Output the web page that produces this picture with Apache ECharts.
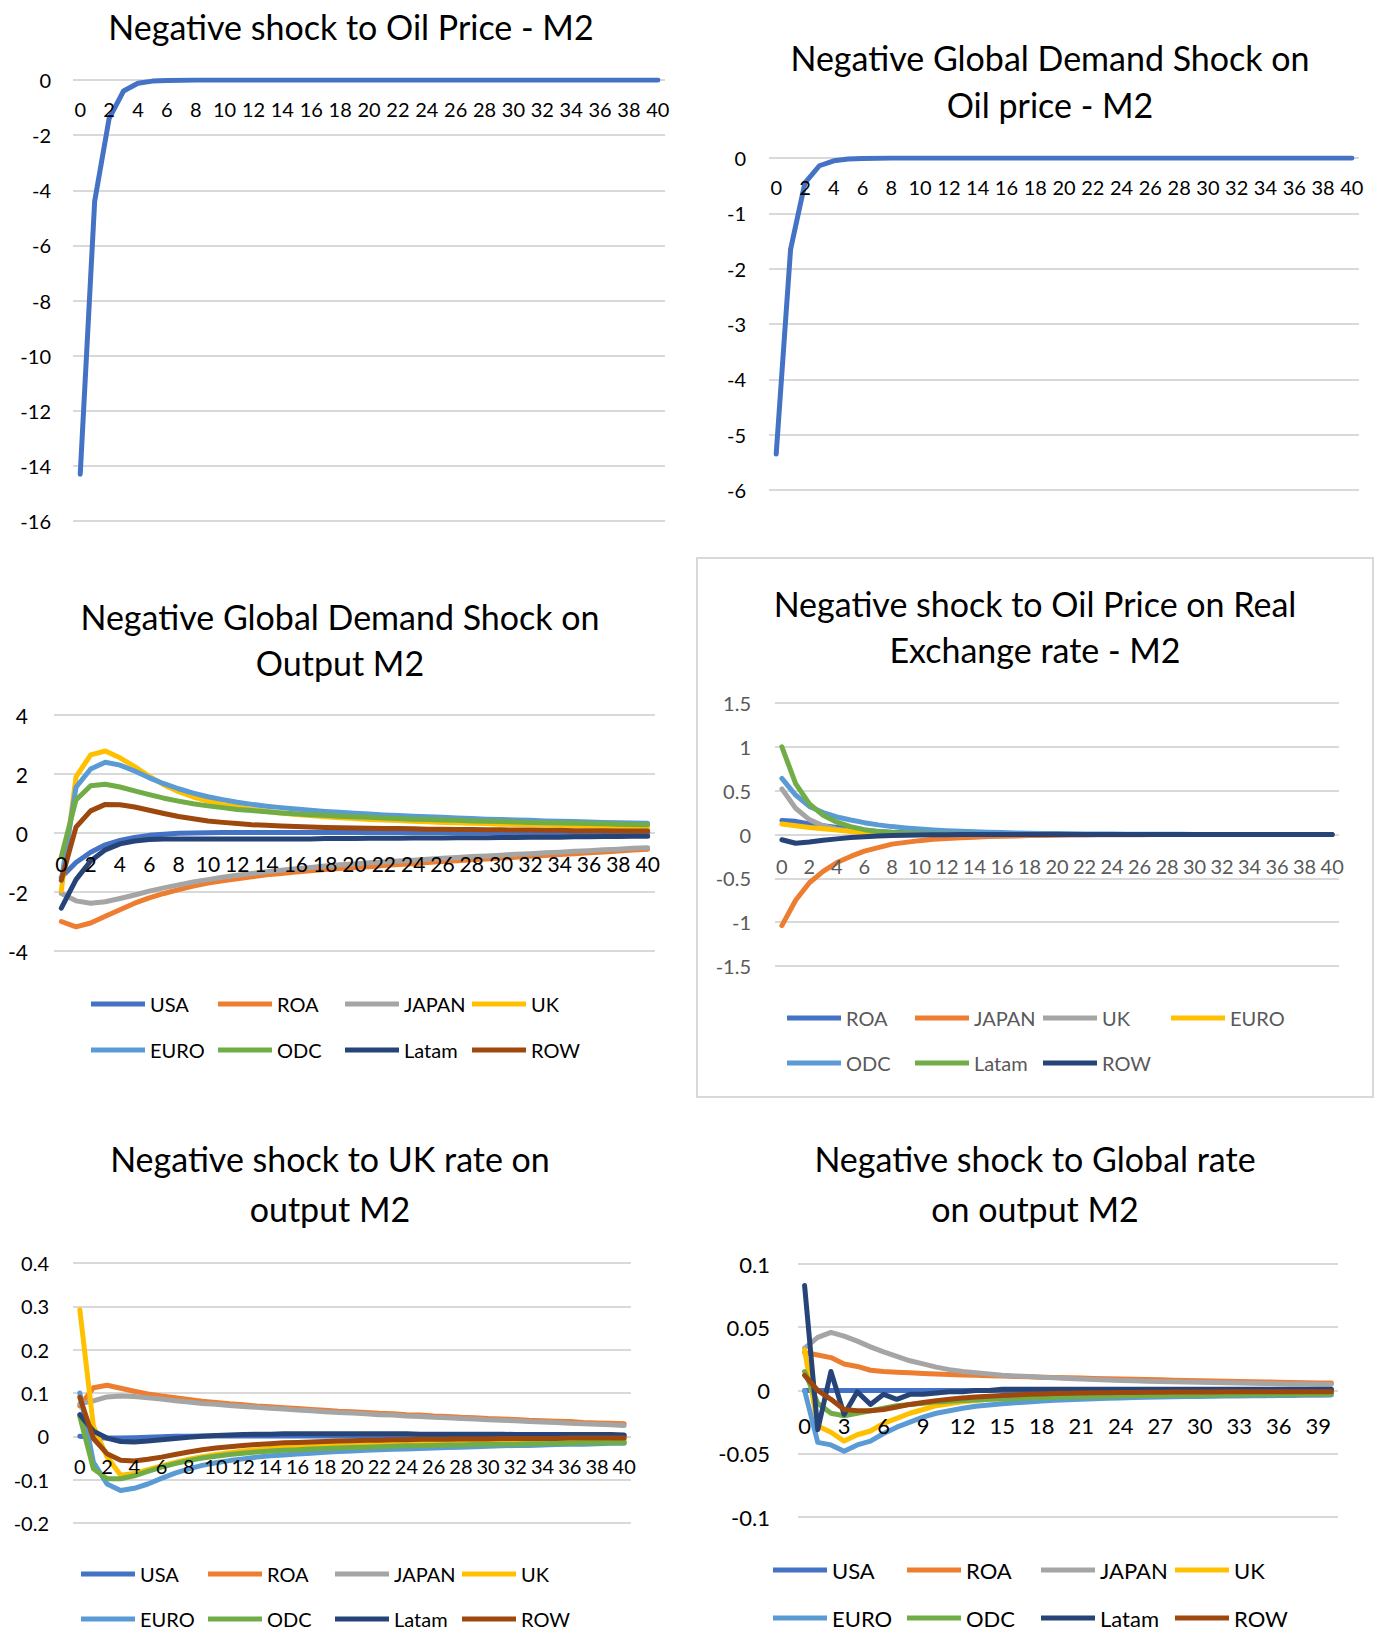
<!DOCTYPE html>
<html>
<head>
<meta charset="utf-8">
<script src="https://cdn.jsdelivr.net/npm/echarts/dist/echarts.min.js"></script>
<style>
  body { margin: 0; background: #fff; }
  #page { position: relative; width: 1386px; height: 1630px; overflow: hidden; }
  .chart { position: absolute; }
</style>
</head>
<body>
<div id="page">
  <div class="chart" id="c1" style="left:0;top:0;width:693px;height:540px"></div>
  <div class="chart" id="c2" style="left:693px;top:0;width:693px;height:540px"></div>
  <div class="chart" id="c3" style="left:0;top:540px;width:693px;height:560px"></div>
  <div class="chart" id="c4" style="left:693px;top:540px;width:693px;height:560px"></div>
  <div class="chart" id="c5" style="left:0;top:1100px;width:693px;height:530px"></div>
  <div class="chart" id="c6" style="left:693px;top:1100px;width:693px;height:530px"></div>
</div>
<script>
// horizon 0..40
const periods = ['0','1','2','3','4','5','6','7','8','9','10','11','12','13','14','15','16','17','18','19','20',
  '21','22','23','24','25','26','27','28','29','30','31','32','33','34','35','36','37','38','39','40'];

const countries8 = ['USA', 'ROA', 'JAPAN', 'UK', 'EURO', 'ODC', 'Latam', 'ROW'];
const countries7 = ['ROA', 'JAPAN', 'UK', 'EURO', 'ODC', 'Latam', 'ROW'];
const palette = ['#4472C4', '#ED7D31', '#A5A5A5', '#FFC000', '#5B9BD5', '#70AD47', '#264478', '#9E480E'];

// chart 1 - oil price shock on oil price
const oilOnOil = [-14.3,-4.4,-1.4,-0.4,-0.12,-0.04,-0.015,-0.005,-0.002,-0.001,
  0,0,0,0,0,0,0,0,0,0, 0,0,0,0,0,0,0,0,0,0, 0,0,0,0,0,0,0,0,0,0, 0];

// chart 2 - global demand shock on oil price
const demandOnOil = [-5.35,-1.65,-0.45,-0.14,-0.05,-0.02,-0.008,-0.003,-0.001,0,
  0,0,0,0,0,0,0,0,0,0, 0,0,0,0,0,0,0,0,0,0, 0,0,0,0,0,0,0,0,0,0, 0];

// chart 3 - global demand shock on output
const demandUSA = [-1.5,-1.0,-0.65,-0.4,-0.25,-0.15,-0.08,-0.04,-0.01,0.0,
  0.01,0.02,0.02,0.02,0.02,0.02,0.02,0.02,0.02,0.02, 0.02,0.02,0.02,0.02,0.02,0.02,0.02,0.02,0.02,0.02,
  0.01,0.01,0.01,0.01,0.01,0.01,0.0,0.0,0.0,0.0, 0.0];
const demandROA = [-3.0,-3.18,-3.05,-2.82,-2.6,-2.38,-2.2,-2.05,-1.92,-1.8,
  -1.7,-1.62,-1.55,-1.48,-1.42,-1.37,-1.32,-1.28,-1.24,-1.2, -1.17,-1.14,-1.1,-1.07,-1.04,-1.0,-0.97,-0.94,-0.91,-0.88,
  -0.85,-0.82,-0.79,-0.76,-0.73,-0.7,-0.67,-0.64,-0.61,-0.58, -0.55];
const demandJAPAN = [-2.05,-2.3,-2.38,-2.33,-2.22,-2.1,-1.97,-1.86,-1.76,-1.66,
  -1.58,-1.5,-1.43,-1.37,-1.31,-1.26,-1.21,-1.17,-1.12,-1.08, -1.05,-1.01,-0.98,-0.95,-0.92,-0.89,-0.86,-0.83,-0.8,-0.78,
  -0.75,-0.72,-0.7,-0.67,-0.65,-0.62,-0.6,-0.57,-0.55,-0.52, -0.5];
const demandUK = [-1.95,1.9,2.65,2.78,2.55,2.25,1.92,1.63,1.4,1.22,
  1.08,0.97,0.88,0.8,0.74,0.68,0.63,0.59,0.55,0.52, 0.49,0.46,0.44,0.42,0.4,0.38,0.36,0.35,0.33,0.32,
  0.3,0.29,0.28,0.27,0.26,0.25,0.24,0.23,0.22,0.21, 0.2];
const demandEURO = [-1.6,1.55,2.17,2.4,2.3,2.1,1.87,1.67,1.5,1.35,
  1.23,1.13,1.04,0.97,0.91,0.86,0.81,0.77,0.73,0.7, 0.67,0.64,0.61,0.59,0.57,0.55,0.53,0.51,0.49,0.47,
  0.46,0.44,0.43,0.41,0.4,0.39,0.37,0.36,0.35,0.34, 0.33];
const demandODC = [-0.8,1.12,1.6,1.65,1.56,1.43,1.3,1.18,1.08,0.99,
  0.92,0.86,0.8,0.76,0.72,0.68,0.65,0.62,0.6,0.57, 0.55,0.53,0.51,0.49,0.47,0.46,0.44,0.43,0.41,0.4,
  0.39,0.37,0.36,0.35,0.34,0.33,0.32,0.31,0.3,0.29, 0.28];
const demandLatam = [-2.55,-1.58,-0.95,-0.57,-0.37,-0.27,-0.22,-0.2,-0.2,-0.2,
  -0.2,-0.2,-0.2,-0.2,-0.2,-0.2,-0.2,-0.2,-0.19,-0.19, -0.19,-0.18,-0.18,-0.18,-0.17,-0.17,-0.17,-0.16,-0.16,-0.16,
  -0.15,-0.15,-0.14,-0.14,-0.14,-0.13,-0.13,-0.12,-0.12,-0.11, -0.11];
const demandROW = [-1.6,0.2,0.75,0.97,0.96,0.88,0.77,0.66,0.56,0.48,
  0.41,0.36,0.32,0.28,0.26,0.24,0.22,0.2,0.19,0.18, 0.17,0.16,0.15,0.15,0.14,0.13,0.13,0.12,0.12,0.11,
  0.11,0.1,0.1,0.09,0.09,0.08,0.08,0.08,0.07,0.07, 0.07];

// chart 4 - oil price shock on real exchange rate
const rerROA = [0.16,0.15,0.12,0.1,0.08,0.06,0.045,0.035,0.025,0.02,
  0.015,0.012,0.01,0.008,0.006,0.005,0.004,0.003,0.002,0.002, 0.001,0,0,0,0,0,0,0,0,0,
  0,0,0,0,0,0,0,0,0,0, 0];
const rerJAPAN = [-1.04,-0.75,-0.55,-0.42,-0.32,-0.25,-0.19,-0.15,-0.11,-0.09,
  -0.07,-0.055,-0.045,-0.037,-0.03,-0.024,-0.02,-0.016,-0.012,-0.01, -0.008,-0.006,-0.005,-0.004,-0.003,-0.002,-0.002,-0.001,-0.001,-0.001,
  0,0,0,0,0,0,0,0,0,0, 0];
const rerUK = [0.52,0.3,0.17,0.1,0.06,0.04,0.025,0.015,0.01,0.006,
  0.004,0.002,0.001,0,0,0,0,0,0,0, 0,0,0,0,0,0,0,0,0,0, 0,0,0,0,0,0,0,0,0,0, 0];
const rerEURO = [0.12,0.1,0.08,0.065,0.05,0.035,0.02,0.01,0.005,0.003,
  0.002,0.001,0,0,0,0,0,0,0,0, 0,0,0,0,0,0,0,0,0,0, 0,0,0,0,0,0,0,0,0,0, 0];
const rerODC = [0.64,0.45,0.32,0.25,0.2,0.165,0.135,0.11,0.09,0.075,
  0.062,0.052,0.044,0.037,0.031,0.026,0.022,0.018,0.015,0.012, 0.01,0.008,0.007,0.006,0.005,0.004,0.003,0.003,0.002,0.002,
  0.001,0.001,0.001,0,0,0,0,0,0,0, 0];
const rerLatam = [1.0,0.58,0.35,0.22,0.14,0.09,0.055,0.035,0.022,0.015,
  0.01,0.007,0.005,0.003,0.002,0.001,0,0,0,0, 0,0,0,0,0,0,0,0,0,0, 0,0,0,0,0,0,0,0,0,0, 0];
const rerROW = [-0.06,-0.1,-0.085,-0.065,-0.05,-0.035,-0.025,-0.017,-0.012,-0.008,
  -0.005,-0.003,-0.002,-0.001,0,0,0,0,0,0, 0,0,0,0,0,0,0,0,0,0, 0,0,0,0,0,0,0,0,0,0, 0];

// chart 5 - UK rate shock on output
const ukUSA = [0,-0.003,-0.004,-0.004,-0.003,-0.002,-0.001,0,0,0.001,
  0.001,0.001,0.001,0.001,0.001,0.001,0.001,0.001,0.001,0.001, 0.001,0.001,0.001,0.001,0.001,0.001,0.001,0.001,0.001,0.001,
  0.001,0.001,0.001,0.001,0.001,0,0,0,0,0, 0];
const ukROA = [0.07,0.112,0.118,0.111,0.104,0.098,0.093,0.089,0.085,0.081,
  0.078,0.075,0.073,0.07,0.068,0.066,0.064,0.062,0.06,0.058, 0.057,0.055,0.053,0.052,0.05,0.049,0.047,0.046,0.044,0.043,
  0.041,0.04,0.039,0.037,0.036,0.035,0.034,0.032,0.031,0.03, 0.029];
const ukJAPAN = [0.075,0.082,0.091,0.093,0.092,0.089,0.086,0.082,0.079,0.076,
  0.074,0.071,0.069,0.067,0.065,0.063,0.061,0.059,0.057,0.055, 0.054,0.052,0.05,0.049,0.047,0.046,0.044,0.043,0.041,0.04,
  0.038,0.037,0.036,0.034,0.033,0.032,0.03,0.029,0.028,0.027, 0.025];
const ukUK = [0.292,0.023,-0.047,-0.09,-0.086,-0.077,-0.068,-0.06,-0.053,-0.047,
  -0.042,-0.038,-0.034,-0.031,-0.028,-0.026,-0.024,-0.022,-0.02,-0.019, -0.018,-0.017,-0.016,-0.015,-0.015,-0.014,-0.014,-0.013,-0.013,-0.013,
  -0.012,-0.012,-0.012,-0.011,-0.011,-0.011,-0.011,-0.01,-0.01,-0.01, -0.01];
const ukEURO = [0.1,-0.06,-0.11,-0.125,-0.12,-0.11,-0.097,-0.085,-0.075,-0.067,
  -0.061,-0.056,-0.052,-0.048,-0.045,-0.043,-0.041,-0.039,-0.037,-0.035, -0.034,-0.032,-0.031,-0.03,-0.029,-0.028,-0.027,-0.026,-0.025,-0.024,
  -0.023,-0.022,-0.021,-0.021,-0.02,-0.019,-0.018,-0.018,-0.017,-0.016, -0.016];
const ukODC = [0.046,-0.075,-0.098,-0.098,-0.091,-0.081,-0.071,-0.063,-0.056,-0.05,
  -0.046,-0.042,-0.039,-0.036,-0.034,-0.032,-0.031,-0.029,-0.028,-0.027, -0.026,-0.025,-0.024,-0.023,-0.022,-0.022,-0.021,-0.02,-0.02,-0.019,
  -0.019,-0.018,-0.018,-0.017,-0.017,-0.016,-0.016,-0.015,-0.015,-0.015, -0.014];
const ukLatam = [0.05,0.012,-0.004,-0.012,-0.013,-0.011,-0.008,-0.005,-0.002,0,
  0.002,0.003,0.004,0.005,0.005,0.006,0.006,0.006,0.006,0.006, 0.006,0.006,0.006,0.006,0.006,0.005,0.005,0.005,0.005,0.005,
  0.005,0.005,0.004,0.004,0.004,0.004,0.004,0.004,0.004,0.004, 0.003];
const ukROW = [0.09,-0.005,-0.04,-0.055,-0.057,-0.053,-0.048,-0.042,-0.036,-0.031,
  -0.027,-0.024,-0.021,-0.019,-0.017,-0.015,-0.014,-0.013,-0.012,-0.011, -0.01,-0.009,-0.009,-0.008,-0.008,-0.007,-0.007,-0.007,-0.006,-0.006,
  -0.006,-0.005,-0.005,-0.005,-0.005,-0.005,-0.004,-0.004,-0.004,-0.004, -0.004];

// chart 6 - global rate shock on output
const glUSA = [0,0,0,0,0,0,0,0,0,0, 0,0,0,0,0,0,0,0,0,0, 0,0,0,0,0,0,0,0,0,0, 0,0,0,0,0,0,0,0,0,0, 0];
const glROA = [0.03,0.028,0.026,0.021,0.019,0.016,0.015,0.0145,0.014,0.0135,
  0.013,0.0127,0.0123,0.012,0.0117,0.0114,0.0111,0.0108,0.0105,0.0102, 0.01,0.0098,0.0095,0.0093,0.009,0.0088,0.0086,0.0084,0.0082,0.008,
  0.0078,0.0076,0.0074,0.0072,0.007,0.0068,0.0066,0.0064,0.0062,0.006, 0.006];
const glJAPAN = [0.0335,0.042,0.046,0.043,0.039,0.0345,0.0305,0.027,0.0235,0.021,
  0.0185,0.0165,0.015,0.014,0.013,0.012,0.0115,0.011,0.0105,0.01, 0.0095,0.009,0.0087,0.0083,0.008,0.0077,0.0074,0.0071,0.0069,0.0067,
  0.0065,0.0063,0.0061,0.0059,0.0057,0.0055,0.0054,0.0052,0.0051,0.005, 0.0049];
const glUK = [0.032,-0.028,-0.033,-0.04,-0.035,-0.032,-0.026,-0.022,-0.018,-0.015,
  -0.012,-0.0105,-0.009,-0.008,-0.007,-0.0062,-0.0055,-0.005,-0.0045,-0.004, -0.0037,-0.0034,-0.0031,-0.0028,-0.0026,-0.0024,-0.0022,-0.002,-0.0019,-0.0018,
  -0.0017,-0.0016,-0.0015,-0.0014,-0.0013,-0.0012,-0.0012,-0.0011,-0.0011,-0.001, -0.001];
const glEURO = [0.0,-0.041,-0.043,-0.048,-0.043,-0.04,-0.034,-0.029,-0.025,-0.021,
  -0.018,-0.016,-0.014,-0.0125,-0.0115,-0.0105,-0.0097,-0.009,-0.0084,-0.0078, -0.0073,-0.0069,-0.0065,-0.0062,-0.0059,-0.0056,-0.0054,-0.0052,-0.005,-0.0048,
  -0.0047,-0.0045,-0.0044,-0.0043,-0.0042,-0.0041,-0.004,-0.0039,-0.0038,-0.0037, -0.0036];
const glODC = [0.015,-0.01,-0.018,-0.02,-0.018,-0.016,-0.014,-0.012,-0.011,-0.01,
  -0.009,-0.0085,-0.008,-0.0075,-0.007,-0.0067,-0.0063,-0.006,-0.0057,-0.0054, -0.0051,-0.0049,-0.0047,-0.0045,-0.0043,-0.0041,-0.004,-0.0039,-0.0038,-0.0037,
  -0.0036,-0.0035,-0.0034,-0.0033,-0.0032,-0.0031,-0.003,-0.003,-0.0029,-0.0029, -0.0028];
const glLatam = [0.083,-0.031,0.015,-0.019,-0.001,-0.011,-0.003,-0.007,-0.003,-0.003,
  -0.002,-0.001,-0.001,0,0,0.001,0.001,0.001,0.001,0.001, 0.001,0.001,0.001,0.001,0.001,0.001,0.001,0.001,0.001,0.001,
  0.001,0.001,0.001,0.001,0.001,0.001,0.001,0.001,0.001,0.001, 0.001];
const glROW = [0.012,0.0,-0.007,-0.015,-0.016,-0.016,-0.015,-0.013,-0.011,-0.0095,
  -0.008,-0.007,-0.006,-0.0052,-0.0045,-0.004,-0.0035,-0.003,-0.0027,-0.0024, -0.0022,-0.002,-0.0018,-0.0017,-0.0016,-0.0015,-0.0014,-0.0013,-0.0012,-0.0012,
  -0.0011,-0.0011,-0.001,-0.001,-0.001,-0.001,-0.001,-0.001,-0.001,-0.001, -0.001];

const FONT = 'Lato, "Open Sans", sans-serif';
const gridColor = '#D9D9D9';

function lineChart(id, cfg) {
  const chart = echarts.init(document.getElementById(id), null, {renderer: 'svg'});
  const textColor = cfg.textColor || '#000';
  const [yMin, yMax, yStep] = cfg.y;
  // category axis sits on the value 0 line, like Excel's "axis crosses at 0"
  const zeroOffset = -cfg.grid[3] * (0 - yMin) / (yMax - yMin);

  const graphic = cfg.title.map((line, i) => ({
    type: 'text',
    x: cfg.titleX,
    y: cfg.titleY + i * cfg.titleGap,
    style: {
      text: line, fill: '#000', fontSize: 34, fontFamily: FONT,
      align: 'center', verticalAlign: 'middle'
    }
  }));
  if (cfg.frame) {
    graphic.push({type: 'rect', z: -1, shape: cfg.frame, style: {fill: 'none', stroke: gridColor, lineWidth: 2}});
  }

  // one legend per item, so items sit on a fixed grid like Excel
  const legend = cfg.legend ? cfg.names.map((name, i) => ({
    data: [name],
    padding: 0,
    left: cfg.legend.x + (i % 4) * cfg.legend.step,
    top: cfg.legend.rows[Math.floor(i / 4)] - 11,
    itemWidth: 54,
    itemHeight: 5,
    icon: 'rect',
    selectedMode: false,
    textStyle: {fontFamily: FONT, fontSize: cfg.legend.fontSize, color: textColor, lineHeight: 22}
  })) : [];

  const option = {
    animation: false,
    graphic: graphic,
    legend: legend,
    grid: {left: cfg.grid[0], top: cfg.grid[1], width: cfg.grid[2], height: cfg.grid[3], containLabel: false},
    xAxis: {
      type: 'category',
      data: periods,
      boundaryGap: true,
      position: 'bottom',
      offset: zeroOffset,
      z: 5,  // labels drawn over the lines, as in Excel
      axisLine: {show: false, onZero: false},
      axisTick: {show: false},
      splitLine: {show: false},
      axisLabel: {interval: cfg.labelInterval, margin: cfg.xMargin, fontSize: cfg.fontSize, fontFamily: FONT, color: textColor}
    },
    yAxis: {
      type: 'value',
      min: yMin, max: yMax, interval: yStep,
      axisLine: {show: false},
      axisTick: {show: false},
      splitLine: {lineStyle: {color: gridColor, width: 2}},
      axisLabel: {margin: cfg.yMargin, fontSize: cfg.fontSize, fontFamily: FONT, color: textColor}
    },
    series: cfg.names.map((name, i) => ({
      name: name,
      type: 'line',
      data: cfg.data[i],
      symbol: 'none',
      itemStyle: {color: cfg.colors[i]},
      lineStyle: {width: 5, color: cfg.colors[i], cap: 'round', join: 'round'}
    }))
  };
  chart.setOption(option);
  return chart;
}

lineChart('c1', {
  title: ['Negative shock to Oil Price - M2'], titleX: 351, titleY: 26, titleGap: 0,
  grid: [73, 80, 592, 441], y: [-16, 0, 2], labelInterval: 1, xMargin: 19, yMargin: 22, fontSize: 20,
  names: ['Oil price'], colors: [palette[0]], data: [oilOnOil]
});

lineChart('c2', {
  title: ['Negative Global Demand Shock on', 'Oil price - M2'], titleX: 357, titleY: 57, titleGap: 47,
  grid: [76, 158, 590, 332], y: [-6, 0, 1], labelInterval: 1, xMargin: 19, yMargin: 23, fontSize: 20,
  names: ['Oil price'], colors: [palette[0]], data: [demandOnOil]
});

lineChart('c3', {
  title: ['Negative Global Demand Shock on', 'Output M2'], titleX: 340, titleY: 76, titleGap: 46,
  grid: [54, 175, 601, 236], y: [-4, 4, 2], labelInterval: 1, xMargin: 20, yMargin: 26, fontSize: 21,
  names: countries8, colors: palette,
  data: [demandUSA, demandROA, demandJAPAN, demandUK, demandEURO, demandODC, demandLatam, demandROW],
  legend: {x: 91, step: 127, rows: [464, 510], fontSize: 20}
});

lineChart('c4', {
  title: ['Negative shock to Oil Price on Real', 'Exchange rate - M2'], titleX: 342, titleY: 63, titleGap: 46,
  grid: [82, 163, 564, 263], y: [-1.5, 1.5, 0.5], labelInterval: 1, xMargin: 21, yMargin: 24, fontSize: 20,
  textColor: '#595959',
  names: countries7, colors: palette.slice(0, 7),
  data: [rerROA, rerJAPAN, rerUK, rerEURO, rerODC, rerLatam, rerROW],
  legend: {x: 94, step: 128, rows: [478, 523], fontSize: 20},
  frame: {x: 4, y: 18, width: 676, height: 539}
});

lineChart('c5', {
  title: ['Negative shock to UK rate on', 'output M2'], titleX: 330, titleY: 58, titleGap: 50,
  grid: [73, 163, 558, 260], y: [-0.2, 0.4, 0.1], labelInterval: 1, xMargin: 20, yMargin: 24, fontSize: 20,
  names: countries8, colors: palette,
  data: [ukUSA, ukROA, ukJAPAN, ukUK, ukEURO, ukODC, ukLatam, ukROW],
  legend: {x: 81, step: 127, rows: [474, 519], fontSize: 20}
});

lineChart('c6', {
  title: ['Negative shock to Global rate', 'on output M2'], titleX: 342, titleY: 58, titleGap: 50,
  grid: [105, 164, 540, 253], y: [-0.1, 0.1, 0.05], labelInterval: 2, xMargin: 24, yMargin: 28, fontSize: 22,
  names: countries8, colors: palette,
  data: [glUSA, glROA, glJAPAN, glUK, glEURO, glODC, glLatam, glROW],
  legend: {x: 80, step: 134, rows: [470, 518], fontSize: 22}
});
</script>
</body>
</html>
